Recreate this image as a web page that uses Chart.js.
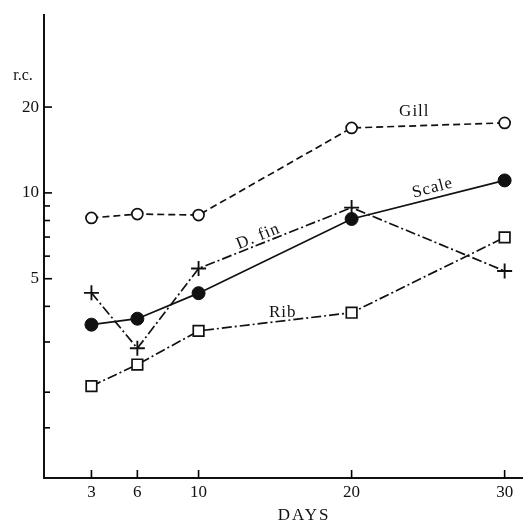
<!DOCTYPE html>
<html>
<head>
<meta charset="utf-8">
<script src="https://cdn.jsdelivr.net/npm/chart.js@4/dist/chart.umd.min.js"></script>
<style>
  html, body { margin: 0; padding: 0; background: #fff; overflow: hidden; }
  #wrap { width: 523px; height: 524px; }
  canvas { display: block; }
</style>
</head>
<body>
<div id="wrap"><canvas id="myChart" width="523" height="524"></canvas></div>
<script>
// Days on the x axis
const days = [3, 6, 10, 20, 30];

// r.c. values
const gill = [8.17, 8.43, 8.36, 16.9, 17.6];
const scaleVals = [3.45, 3.62, 4.45, 8.1, 11.06];
const dFin = [4.46, 2.85, 5.43, 8.88, 5.32];
const rib = [2.1, 2.5, 3.28, 3.8, 6.98];

// Tick marks and labels
const xTicks = [3, 6, 10, 20, 30];
const yTicks = [1.5, 2, 3, 4, 5, 6, 7, 8, 9, 10, 20];
const yLabels = [5, 10, 20];

const serif = "'Liberation Serif', 'DejaVu Serif', serif";

// Pair days with values for a scatter-with-lines dataset
const toPoints = (vals) => days.map((d, i) => ({ x: d, y: vals[i] }));

// Text written next to the curves (in data units)
const notes = [
  { text: "Gill", x: 24.1, y: 19.3, angle: 0 },
  { text: "Scale", x: 25.3, y: 10.4, angle: -15 },
  { text: "D. fin", x: 13.9, y: 7.03, angle: -22 },
  { text: "Rib", x: 15.5, y: 3.79, angle: 0 },
];

// Draws inward tick marks and the free text labels
const extras = {
  id: "extras",
  afterDraw(chart) {
    const { ctx, chartArea } = chart;
    const xs = chart.scales.x;
    const ys = chart.scales.y;
    ctx.save();
    ctx.strokeStyle = "#000";
    ctx.lineWidth = 1.6;
    yTicks.forEach((v) => {
      const py = ys.getPixelForValue(v);
      const len = yLabels.includes(v) ? 8 : 6;
      ctx.beginPath();
      ctx.moveTo(chartArea.left, py);
      ctx.lineTo(chartArea.left + len, py);
      ctx.stroke();
    });
    xTicks.forEach((v) => {
      const px = xs.getPixelForValue(v);
      ctx.beginPath();
      ctx.moveTo(px, chartArea.bottom);
      ctx.lineTo(px, chartArea.bottom - 8);
      ctx.stroke();
    });

    ctx.fillStyle = "#111";
    ctx.textAlign = "center";
    ctx.textBaseline = "middle";
    ctx.font = "17px " + serif;
    notes.forEach((n) => {
      ctx.save();
      ctx.translate(xs.getPixelForValue(n.x), ys.getPixelForValue(n.y));
      ctx.rotate((n.angle * Math.PI) / 180);
      ctx.letterSpacing = "1px";
      ctx.fillText(n.text, 0, 0);
      ctx.restore();
    });

    ctx.font = "16px " + serif;
    ctx.fillText("r.c.", chartArea.left - 21, ys.getPixelForValue(25.8));

    ctx.font = "17px " + serif;
    ctx.letterSpacing = "2px";
    ctx.fillText("DAYS", xs.getPixelForValue(16.9), 516);
    ctx.restore();
  },
};

const chrt = document.getElementById("myChart");

new Chart(chrt, {
  type: "scatter",
  data: {
    datasets: [
      {
        label: "Gill",
        data: toPoints(gill),
        showLine: true,
        borderColor: "#111",
        borderWidth: 1.7,
        borderDash: [7, 4],
        pointStyle: "circle",
        pointRadius: 5.5,
        pointBackgroundColor: "#fff",
        pointBorderColor: "#111",
        pointBorderWidth: 1.7,
      },
      {
        label: "Scale",
        data: toPoints(scaleVals),
        showLine: true,
        borderColor: "#111",
        borderWidth: 1.7,
        pointStyle: "circle",
        pointRadius: 6.5,
        pointBackgroundColor: "#111",
        pointBorderColor: "#111",
        pointBorderWidth: 1,
      },
      {
        label: "D. fin",
        data: toPoints(dFin),
        showLine: true,
        borderColor: "#111",
        borderWidth: 1.7,
        borderDash: [10, 3, 2, 3],
        pointStyle: "cross",
        pointRadius: 7.5,
        pointBorderColor: "#111",
        pointBorderWidth: 1.9,
      },
      {
        label: "Rib",
        data: toPoints(rib),
        showLine: true,
        borderColor: "#111",
        borderWidth: 1.7,
        borderDash: [10, 3, 2, 3],
        pointStyle: "rect",
        pointRadius: 7.5,
        pointBackgroundColor: "#fff",
        pointBorderColor: "#111",
        pointBorderWidth: 1.7,
      },
    ],
  },
  options: {
    responsive: false,
    animation: false,
    layout: {
      autoPadding: false,
      padding: { top: 12, right: 0, left: 0, bottom: 0 },
    },
    plugins: {
      legend: { display: false },
      tooltip: { enabled: false },
    },
    scales: {
      x: {
        type: "linear",
        min: -0.1,
        max: 31.2,
        afterBuildTicks: (s) => {
          s.ticks = xTicks.map((v) => ({ value: v }));
        },
        afterFit: (s) => {
          s.height = 46;
        },
        grid: { display: false, drawTicks: false },
        border: { display: true, color: "#111", width: 2 },
        ticks: {
          padding: 4,
          color: "#111",
          font: { family: serif, size: 17 },
          maxRotation: 0,
          callback: (v) => String(v),
        },
      },
      y: {
        type: "logarithmic",
        min: 1,
        max: 42,
        afterBuildTicks: (s) => {
          s.ticks = yTicks.map((v) => ({ value: v }));
        },
        afterFit: (s) => {
          s.width = 44;
        },
        grid: { display: false, drawTicks: false },
        border: { display: true, color: "#111", width: 2 },
        ticks: {
          padding: 5,
          color: "#111",
          font: { family: serif, size: 17 },
          autoSkip: false,
          callback: (v) => (yLabels.includes(v) ? String(v) : ""),
        },
      },
    },
  },
  plugins: [extras],
});
</script>
</body>
</html>
